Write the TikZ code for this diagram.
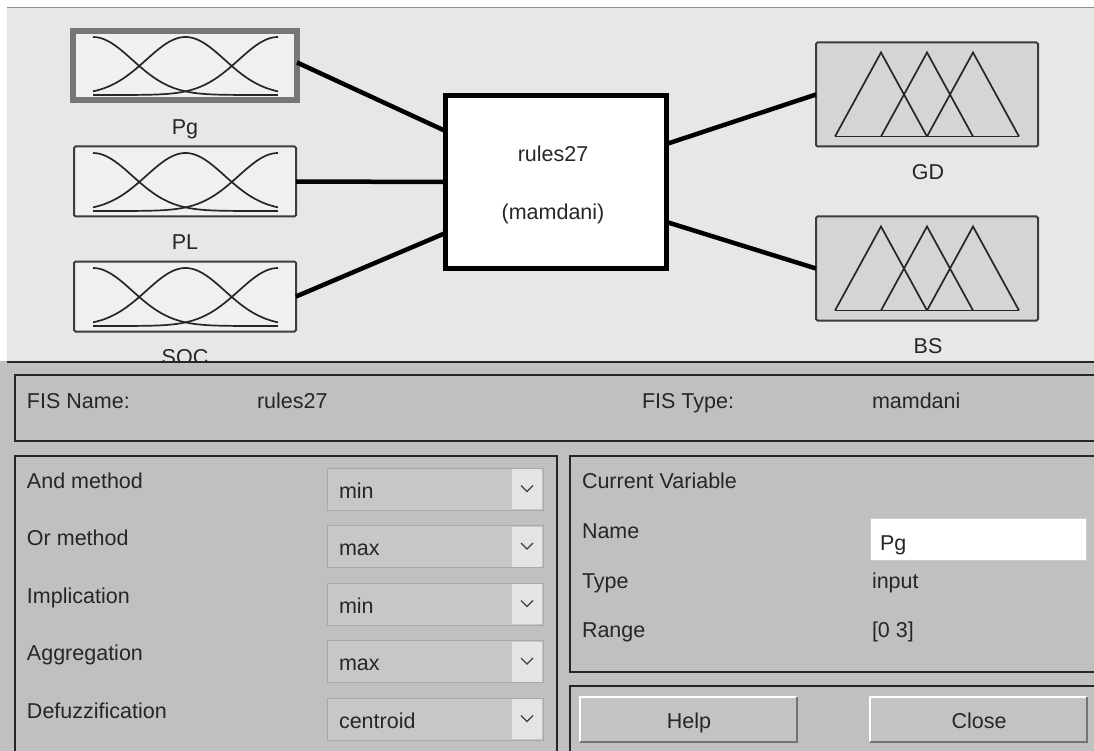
\documentclass[tikz,border=0pt]{standalone}
\usepackage{fontspec}
\setmainfont{Liberation Sans}
\usetikzlibrary{calc}
\definecolor{topbg}{RGB}{231,231,231}
\definecolor{botbg}{RGB}{192,192,192}
\definecolor{inboxc}{RGB}{240,240,240}
\definecolor{outboxc}{RGB}{213,213,213}
\definecolor{selgray}{RGB}{118,118,118}
\definecolor{ddfill}{RGB}{199,199,199}
\definecolor{ddborder}{RGB}{168,168,168}
\definecolor{ddarrow}{RGB}{228,228,228}
\definecolor{edgegray}{RGB}{60,60,60}
\begin{document}
\begin{tikzpicture}[x=1pt,y=-1pt,
  every node/.style={font=\fontsize{21.5}{25}\selectfont, inner sep=0pt, outer sep=0pt},
  inbox/.style={draw=edgegray, line width=2pt, fill=inboxc, rounded corners=1.5pt, minimum width=222pt, minimum height=70pt},
  selbox/.style={draw=selgray, line width=6pt, fill=inboxc, minimum width=224pt, minimum height=69pt},
  outbox/.style={draw=edgegray, line width=2pt, fill=outboxc, rounded corners=1.5pt, minimum width=222pt, minimum height=104pt},
  rulebox/.style={draw=black, line width=5pt, fill=white, minimum width=221pt, minimum height=173pt},
  conn/.style={line width=4.5pt, black},
  mfline/.style={line width=1.7pt, black!85},
  panel/.style={draw=black!85, line width=2pt},
  lbl/.style={anchor=base, text=black!85},
  txt/.style={anchor=base west, text=black!85},
  ddbox/.style={fill=ddfill, draw=ddborder, line width=1pt},
  btn/.style={fill=botbg!95!white}
]
\useasboundingbox (0,0) rectangle (1094,751);
\fill[white] (0,0) rectangle (1094,751);
% ---------- top area ----------
\fill[topbg] (7,8) rectangle (1094,361);
\draw[black!45, line width=1pt] (7,8) -- (1094,8);

% input variables
\node[selbox] (pg) at (185,65.5) {};
\node[inbox] (pl) at (185,181.5) {};
\node[inbox] (soc) at (185,296.5) {};
\foreach \n in {pg,pl,soc}{
  \begin{scope}[shift={(\n.center)}]
    \draw[mfline] plot[domain=0:3,samples=60] ({-92+61.67*\x},{29.5-58*exp(-(\x*\x)/0.8115)});
    \draw[mfline] plot[domain=0:3,samples=60] ({-92+61.67*\x},{29.5-58*exp(-((\x-1.5)*(\x-1.5))/0.8115)});
    \draw[mfline] plot[domain=0:3,samples=60] ({-92+61.67*\x},{29.5-58*exp(-((\x-3)*(\x-3))/0.8115)});
  \end{scope}
}
\node[lbl] (pglab) at (185,135) {Pg};
\node[lbl] (pllab) at (185,250) {PL};
\node[lbl] (soclab) at (185,364) {SOC};

% rule box
\node[rulebox] (rules) at (556,182) {};
\node[lbl] (rname) at (553,162) {rules27};
\node[lbl] (rtype) at (553,220) {(mamdani)};

% output variables
\node[outbox] (gd) at (927,94.5) {};
\node[outbox] (bs) at (927,268.5) {};
\foreach \n in {gd,bs}{
  \begin{scope}[shift={(\n.center)}]
    \draw[mfline] (-92,42) -- (-46,-42) -- (0,42);
    \draw[mfline] (-46,42) -- (0,-42) -- (46,42);
    \draw[mfline] (0,42) -- (46,-42) -- (92,42);
    \draw[mfline] (-92,42) -- (92,42);
  \end{scope}
}
\node[lbl] (gdlab) at (928,180) {GD};
\node[lbl] (bslab) at (928,353) {BS};

% connectors
\draw[conn] ([yshift=3pt]pg.east) -- ([yshift=51pt]rules.west);
\draw[conn] (pl.east) -- (rules.west);
\draw[conn] (soc.east) -- ([yshift=-51pt]rules.west);
\draw[conn] ([yshift=38pt]rules.east) -- (gd.west);
\draw[conn] ([yshift=-40pt]rules.east) -- (bs.west);

% ---------- bottom area ----------
\fill[botbg] (0,361) rectangle (1094,751);
\draw[black!85, line width=2pt] (7,361.5) -- (1094,361.5);

% FIS name panel
\draw[panel] (15,375) rectangle (1110,441);
\node[txt] (fisname) at (27,408) {FIS Name:};
\node[txt] (fisnamev) at (257,408) {rules27};
\node[txt] (fistype) at (642,408) {FIS Type:};
\node[txt] (fistypev) at (872,408) {mamdani};

% methods panel
\draw[panel] (15,456) rectangle (557,770);
\foreach \i/\lab/\val in {0/And method/min,1/Or method/max,2/Implication/min,3/Aggregation/max,4/Defuzzification/centroid}{
  \pgfmathsetmacro{\yy}{468+57.5*\i}
  \draw[ddbox] (327,\yy) rectangle (543,\yy+42);
  \fill[ddarrow] (512,\yy+1) rectangle (542,\yy+41);
  \draw[black!75, line width=1.2pt] (521,\yy+17.5) -- (527,\yy+23.5) -- (533,\yy+17.5);
  \node[txt] (lab\i) at (27,\yy+20) {\lab};
  \node[txt] (val\i) at (339,\yy+30) {\val};
}

% current variable panel
\draw[panel] (570,456) rectangle (1110,672);
\node[txt] (curvar) at (582,488) {Current Variable};
\node[txt] (namelab) at (582,538) {Name};
\fill[white] (870,518) rectangle (1086,560);
\draw[black!20, line width=1pt] (870,518) rectangle (1086,560);
\node[txt] (nameval) at (880,550) {Pg};
\node[txt] (typelab) at (582,588) {Type};
\node[txt] (typeval) at (872,588) {input};
\node[txt] (rangelab) at (582,637) {Range};
\node[txt] (rangeval) at (872,637) {[0 3]};

% buttons panel
\draw[panel] (570,686) rectangle (1110,770);
\foreach \bx/\bt/\bn in {580/Help/help,870/Close/close}{
  \fill[btn] (\bx,697) rectangle (\bx+217,742);
  \draw[white, line width=2pt] (\bx,742) -- (\bx,697) -- (\bx+217,697);
  \draw[black!55, line width=2pt] (\bx,742) -- (\bx+217,742) -- (\bx+217,697);
  \node[lbl] (\bn) at (\bx+109,728) {\bt};
}
\end{tikzpicture}
\end{document}
